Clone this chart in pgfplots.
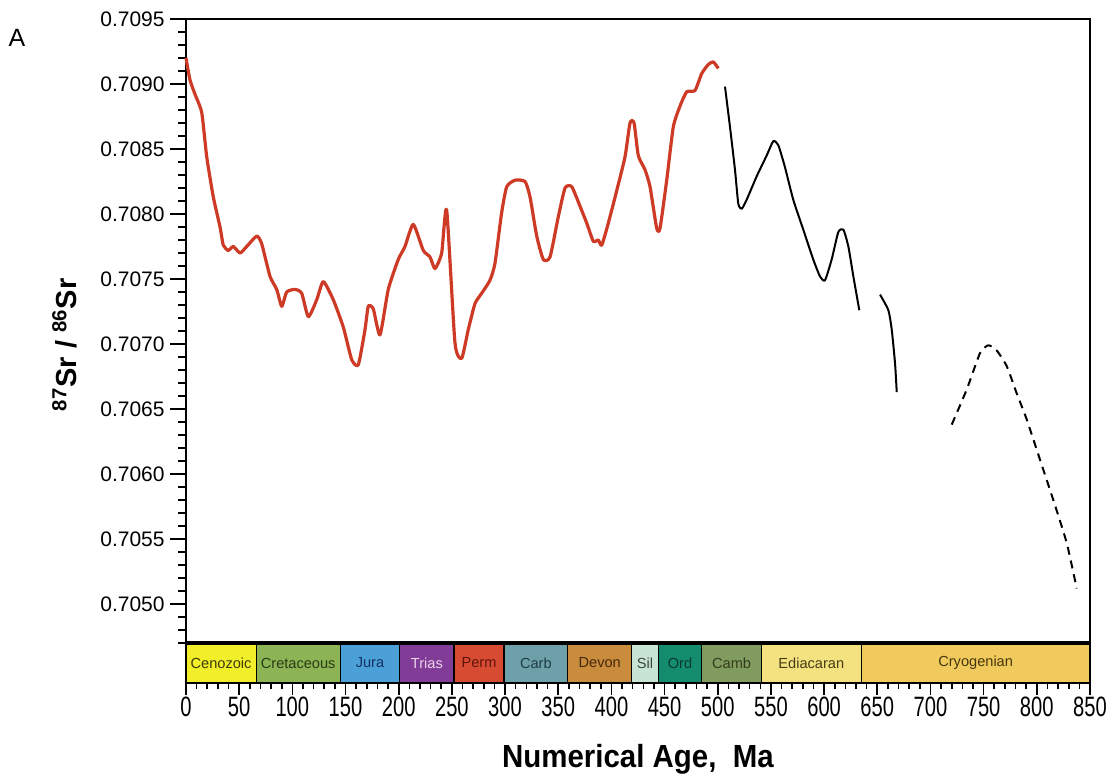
\documentclass[border=0pt]{standalone}
\usepackage{fontspec}
\setmainfont{Liberation Sans}
\newfontfamily\xtickfont[FakeStretch=0.72]{Liberation Sans}
\newfontfamily\titlefont[FakeStretch=0.92]{Liberation Sans}
\usepackage{pgfplots}
\pgfplotsset{compat=1.18}
\pgfplotsset{/pgf/number format/assume math mode=true}

\definecolor{srred}{RGB}{205,58,38}
\definecolor{cenozoic}{RGB}{242,238,42}
\definecolor{cretaceous}{RGB}{140,180,85}
\definecolor{jura}{RGB}{75,160,215}
\definecolor{trias}{RGB}{128,60,150}
\definecolor{perm}{RGB}{215,75,50}
\definecolor{carb}{RGB}{110,160,170}
\definecolor{devon}{RGB}{200,140,60}
\definecolor{sil}{RGB}{200,228,212}
\definecolor{ord}{RGB}{20,140,110}
\definecolor{camb}{RGB}{130,155,95}
\definecolor{ediacaran}{RGB}{244,226,128}
\definecolor{cryogenian}{RGB}{240,202,92}

\pgfplotstableread{
age sr
0 0.70920
3.8 0.70903
8.5 0.70892
14.8 0.70878
19.5 0.70844
25.7 0.70813
32.0 0.70790
35.1 0.70776
39.8 0.70772
44.5 0.70775
50.8 0.70770
57.1 0.70775
66.5 0.70783
71.2 0.70777
79.0 0.70752
85.3 0.70742
90.0 0.70729
94.7 0.70740
102.5 0.70742
108.8 0.70739
115.0 0.70721
122.9 0.70734
129.1 0.70748
138.5 0.70734
147.9 0.70713
155.8 0.70688
162.0 0.70684
168.3 0.70711
171.4 0.70729
176.1 0.70727
182.4 0.70707
190.2 0.70742
199.6 0.70765
205.9 0.70775
213.7 0.70792
223.1 0.70772
229.4 0.70767
234.1 0.70758
240.4 0.70770
245.1 0.70803
252.9 0.70701
259.2 0.70689
265.4 0.70711
271.7 0.70731
278.0 0.70739
285.8 0.70749
290.5 0.70762
296.8 0.70801
301.6 0.70821
309.4 0.70826
318.8 0.70825
323.5 0.70813
329.8 0.70783
336.0 0.70765
342.3 0.70767
350.1 0.70798
356.4 0.70820
362.7 0.70821
370.5 0.70806
376.8 0.70793
383.0 0.70779
387.7 0.70780
390.9 0.70776
397.1 0.70793
405.0 0.70818
412.8 0.70844
417.5 0.70870
421.3 0.70870
425.3 0.70845
431.6 0.70834
436.3 0.70821
442.6 0.70789
445.7 0.70789
452.0 0.70826
458.2 0.70867
464.5 0.70883
470.8 0.70894
478.6 0.70895
484.9 0.70908
491.1 0.70915
495.8 0.70917
500.5 0.70912
}\redcurve

\pgfplotstableread{
age sr
506.8 0.70898
511.5 0.70867
516.2 0.70834
519.3 0.70808
522.5 0.70804
527.2 0.70811
536.6 0.70829
546.0 0.70845
552.2 0.70856
556.9 0.70853
563.2 0.70836
571.0 0.70811
580.4 0.70788
589.8 0.70765
596.1 0.70752
600.8 0.70749
607.1 0.70765
613.3 0.70786
618.1 0.70788
622.8 0.70775
627.5 0.70752
633.1 0.70726
}\blackone

\pgfplotstableread{
age sr
652.6 0.70738
660.4 0.70726
663.6 0.70711
666.7 0.70685
668.3 0.70663
}\blacktwo

\pgfplotstableread{
age sr
720.0 0.70638
734.1 0.70665
746.6 0.70693
754.4 0.70699
762.3 0.70695
771.7 0.70683
781.1 0.70662
790.5 0.70642
803.0 0.70611
815.5 0.70580
828.1 0.70547
837.5 0.70512
}\dashedcurve

\begin{document}
\begin{tikzpicture}
\useasboundingbox (-93pt,-67.5pt) rectangle (463.5pt,321.5pt);
\begin{axis}[
  name=main, at={(0pt,0pt)}, anchor=south west,
  scale only axis, width=452pt, height=312pt,
  xmin=0, xmax=850, ymin=0.7047, ymax=0.7095,
  xtick=\empty,
  ytick={0.7050,0.7055,0.7060,0.7065,0.7070,0.7075,0.7080,0.7085,0.7090,0.7095},
  minor ytick={0.7047,0.7048,0.7049,0.7051,0.7052,0.7053,0.7054,0.7056,0.7057,0.7058,0.7059,0.7061,0.7062,0.7063,0.7064,0.7066,0.7067,0.7068,0.7069,0.7071,0.7072,0.7073,0.7074,0.7076,0.7077,0.7078,0.7079,0.7081,0.7082,0.7083,0.7084,0.7086,0.7087,0.7088,0.7089,0.7091,0.7092,0.7093,0.7094},
  ytick pos=left, tick align=outside,
  major tick length=8pt, minor tick length=4pt,
  major tick style={line width=0.8pt, black},
  minor tick style={line width=0.8pt, black},
  scaled y ticks=false,
  yticklabel style={/pgf/number format/.cd, fixed, fixed zerofill, precision=4, /pgf/number format/assume math mode=true},
  ticklabel style={font=\fontsize{10.5}{12}\selectfont, inner sep=2.5pt},
  axis line style={line width=0.8pt},
  ylabel={\textsuperscript{87}Sr / \textsuperscript{86}Sr},
  ylabel style={font=\bfseries\fontsize{14.5}{16}\selectfont, at={(axis description cs:-0.134,0.478)}, anchor=center},
  clip=false,
]
\addplot[srred, line width=1.6pt, line join=round, smooth, tension=0.35] table[x=age,y=sr] {\redcurve};
\addplot[black, line width=1pt, line join=round, smooth, tension=0.35] table[x=age,y=sr] {\blackone};
\addplot[black, line width=1pt, line join=round, smooth, tension=0.35] table[x=age,y=sr] {\blacktwo};
\addplot[black, line width=1pt, dash pattern=on 4pt off 3pt, smooth, tension=0.35] table[x=age,y=sr] {\dashedcurve};
\end{axis}

\begin{axis}[
  name=band, at={(0pt,0pt)}, anchor=north west,
  scale only axis, width=452pt, height=20pt,
  xmin=0, xmax=850, ymin=0, ymax=1,
  ytick=\empty,
  xtick={0,50,...,850}, minor x tick num=4,
  xtick pos=bottom, tick align=outside,
  major tick length=6pt, minor tick length=3pt,
  major tick style={line width=0.8pt, black},
  minor tick style={line width=0.8pt, black},
  xticklabel style={font=\xtickfont\fontsize{14}{16}\selectfont, inner sep=0pt, yshift=-1pt},
  axis line style={line width=0.8pt},
  axis on top,
  xlabel={Numerical Age,\ \ Ma},
  xlabel style={font=\titlefont\bfseries\fontsize{16}{18}\selectfont, at={(axis description cs:0.5,-2.1)}, anchor=base},
  clip=false,
]
\addplot[fill=cenozoic, draw=black, line width=0.6pt] coordinates {(0,1) (66,1)} \closedcycle;
\addplot[fill=cretaceous, draw=black, line width=0.6pt] coordinates {(66,1) (145,1)} \closedcycle;
\addplot[fill=jura, draw=black, line width=0.6pt] coordinates {(145,1) (201,1)} \closedcycle;
\addplot[fill=trias, draw=black, line width=0.6pt] coordinates {(201,1) (252,1)} \closedcycle;
\addplot[fill=perm, draw=black, line width=0.6pt] coordinates {(252,1) (299,1)} \closedcycle;
\addplot[fill=carb, draw=black, line width=0.6pt] coordinates {(299,1) (359,1)} \closedcycle;
\addplot[fill=devon, draw=black, line width=0.6pt] coordinates {(359,1) (419,1)} \closedcycle;
\addplot[fill=sil, draw=black, line width=0.6pt] coordinates {(419,1) (444,1)} \closedcycle;
\addplot[fill=ord, draw=black, line width=0.6pt] coordinates {(444,1) (485,1)} \closedcycle;
\addplot[fill=camb, draw=black, line width=0.6pt] coordinates {(485,1) (541,1)} \closedcycle;
\addplot[fill=ediacaran, draw=black, line width=0.6pt] coordinates {(541,1) (635,1)} \closedcycle;
\addplot[fill=cryogenian, draw=black, line width=0.6pt] coordinates {(635,1) (850,1)} \closedcycle;
\draw[line width=1.6pt] (rel axis cs:0,1) -- (rel axis cs:1,1);
\begin{scope}[every node/.style={font=\fontsize{7.3}{8}\selectfont, inner sep=0pt}]
\node[text={rgb,255:red,60;green,60;blue,10}] at (axis cs:33,0.5) {Cenozoic};
\node[text={rgb,255:red,40;green,60;blue,20}] at (axis cs:105.5,0.5) {Cretaceous};
\node[text={rgb,255:red,20;green,50;blue,100}] at (axis cs:173,0.5) {Jura};
\node[text={rgb,255:red,235;green,210;blue,235}] at (axis cs:226.5,0.5) {Trias};
\node[text={rgb,255:red,100;green,20;blue,10}] at (axis cs:275.5,0.5) {Perm};
\node[text={rgb,255:red,30;green,60;blue,70}] at (axis cs:329,0.5) {Carb};
\node[text={rgb,255:red,70;green,40;blue,10}] at (axis cs:389,0.5) {Devon};
\node[text={rgb,255:red,60;green,70;blue,65}] at (axis cs:431.5,0.5) {Sil};
\node[text={rgb,255:red,10;green,60;blue,45}] at (axis cs:464.5,0.5) {Ord};
\node[text={rgb,255:red,50;green,60;blue,30}] at (axis cs:513,0.5) {Camb};
\node[text={rgb,255:red,70;green,60;blue,20}] at (axis cs:588,0.5) {Ediacaran};
\node[text={rgb,255:red,70;green,55;blue,15}] at (axis cs:742.5,0.5) {Cryogenian};
\end{scope}
\end{axis}
\node[font=\fontsize{12.5}{14}\selectfont] at (-84.5pt,302.5pt) {A};
\end{tikzpicture}
\end{document}
